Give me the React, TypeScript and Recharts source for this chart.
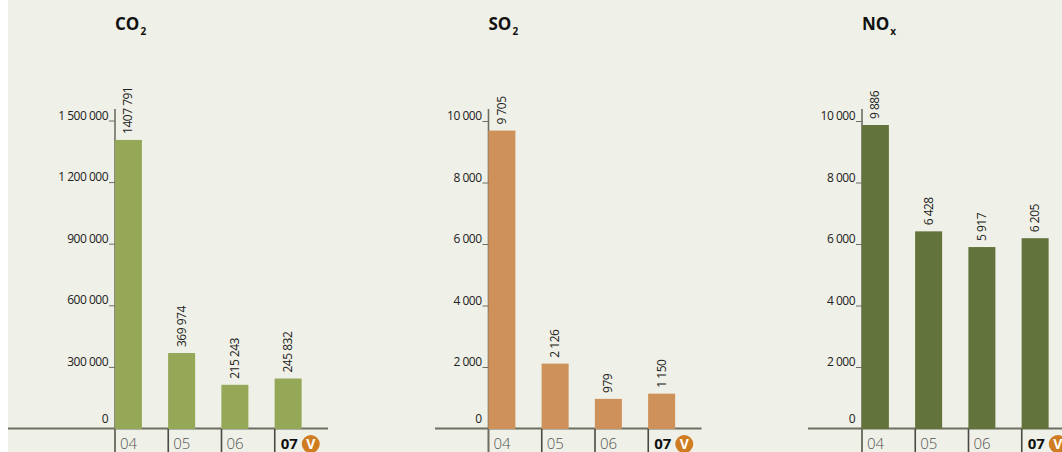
import React from "react";
import { BarChart, Bar, XAxis, YAxis, LabelList } from "recharts";

const categories = ["04", "05", "06", "07"];
const co2Values = [1407791, 369974, 215243, 245832];
const so2Values = [9705, 2126, 979, 1150];
const noxValues = [9886, 6428, 5917, 6205];
const co2Labels = ["1407 791", "369 974", "215 243", "245 832"];
const so2Labels = ["9 705", "2 126", "979", "1 150"];
const noxLabels = ["9 886", "6 428", "5 917", "6 205"];
const co2Ticks = [0, 300000, 600000, 900000, 1200000, 1500000];
const pollutionTicks = [0, 2000, 4000, 6000, 8000, 10000];

const FONT = "'Open Sans', 'Noto Sans', sans-serif";
const BG = "#eff0e7";
const AXIS = "#6e6e62";
const PLOT_W = 213;
const BAR_W = 27;
const PLOT_H = 320;
const BAND = PLOT_W / 4;
const SHIFT = (BAND - BAR_W) / 2;
const SPACE = "\u00a0";

const fmt = (v: number) => String(v).replace(/\B(?=(\d{3})+(?!\d))/g, SPACE);

function YTick({ x, y, payload }: any) {
  const isZero = payload.value === 0;
  return (
    <g>
      {!isZero && <line x1={x} x2={x + 6} y1={y} y2={y} stroke={AXIS} strokeWidth={1} />}
      <text x={x - 1} y={y - (isZero ? 10 : 5.5)} dy={4} textAnchor="end" fontSize={12} letterSpacing={-0.5} fontFamily={FONT} fill="#222">
        {fmt(payload.value)}
      </text>
    </g>
  );
}

function XTick({ x, y, payload, index }: any) {
  const left = x - BAND / 2;
  const last = payload.value === "07";
  return (
    <g>
      <line x1={left} x2={left} y1={y - 6} y2={y + 23} stroke={index === 0 ? AXIS : "#4a4a44"} strokeWidth={1.6} />
      <text
        x={left + (last ? 6 : 5)}
        y={y + 14}
        fontSize={15}
        fontWeight={last ? 700 : 300}
        fontFamily={FONT}
        fill={last ? "#111" : "#555"}
      >
        {payload.value}
      </text>
      {last && (
        <g>
          <circle cx={left + 36} cy={y + 9} r={9} fill="#d07d22" />
          <text x={left + 36} y={y + 14} textAnchor="middle" fontSize={14} fontWeight={700} fontFamily={FONT} fill="#fff">
            V
          </text>
        </g>
      )}
    </g>
  );
}

function ShiftedBar({ x, y, width, height, fill }: any) {
  return <rect x={x - SHIFT} y={y} width={width} height={height} fill={fill} />;
}

function Panel({ left, axisX, width, title, sub, values, labels, ticks, max, color }: any) {
  const rows = categories.map((c, i) => ({ c, v: values[i], l: labels[i] }));
  const yw = axisX - left;
  const LabelRot = (p: any) => {
    const cx = p.x - SHIFT + p.width / 2 + 4;
    const ty = p.y - 6;
    return (
      <text x={cx} y={ty} transform={`rotate(-90 ${cx} ${ty})`} fontSize={12} letterSpacing={-0.5} fontFamily={FONT} fill="#222">
        {String(p.value).replace(" ", SPACE)}
      </text>
    );
  };
  return (
    <div style={{ position: "absolute", left: left - 8, top: 0 }}>
      <BarChart
        width={width}
        height={452}
        data={rows}
        margin={{ top: 109, bottom: 0, left: 0, right: width - yw - PLOT_W }}
        barCategoryGap={0}
      >
        <XAxis dataKey="c" height={23} axisLine={false} tickLine={false} tick={<XTick />} interval={0} tickMargin={0} />
        <YAxis width={yw} domain={[0, max]} ticks={ticks} interval={0} axisLine={false} tickLine={false} tick={<YTick />} tickMargin={0} />
        <Bar dataKey="v" barSize={BAR_W} fill={color} isAnimationActive={false} shape={<ShiftedBar />}>
          <LabelList dataKey="l" content={LabelRot} />
        </Bar>
        <line x1={yw} x2={yw} y1={109} y2={452} stroke={AXIS} strokeWidth={1.6} />
        <line x1={0} x2={yw + PLOT_W} y1={428.5} y2={428.5} stroke={AXIS} strokeWidth={2} />
        <text x={yw} y={30} fontSize={17} fontWeight={700} fontFamily={FONT} fill="#111">
          {title}
          <tspan fontSize={10} dy={5} dx={1}>{sub}</tspan>
        </text>
      </BarChart>
    </div>
  );
}

export default function App() {
  return (
    <div style={{ position: "absolute", left: 8, top: 0, width: 1054, height: 452, background: BG, overflow: "hidden" }}>
      <Panel left={8} axisX={115} width={344} title="CO" sub="2" values={co2Values} labels={co2Labels} ticks={co2Ticks} max={(PLOT_H * 1500000) / 308} color="#95a857" />
      <Panel left={435} axisX={488.5} width={290} title="SO" sub="2" values={so2Values} labels={so2Labels} ticks={pollutionTicks} max={(PLOT_H * 10000) / 307.5} color="#cd9159" />
      <Panel left={808} axisX={862} width={270} title="NO" sub="x" values={noxValues} labels={noxLabels} ticks={pollutionTicks} max={(PLOT_H * 10000) / 307.5} color="#62733c" />
    </div>
  );
}
